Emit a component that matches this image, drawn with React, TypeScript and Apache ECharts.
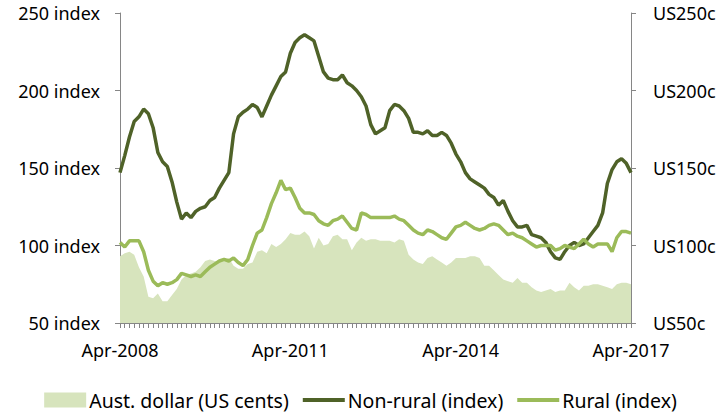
import React, { useEffect, useRef } from "react";
import * as echarts from "echarts";

const startYear = 2008;
const startMonth = 3; // April (0-based)
const monthNames = ["Jan", "Feb", "Mar", "Apr", "May", "Jun", "Jul", "Aug", "Sep", "Oct", "Nov", "Dec"];

const nonRural = [
  147, 158, 170, 180, 183, 188, 185, 176, 160, 154, 151, 141, 128, 117, 121, 118, 122, 124, 125, 129,
  131, 137, 142, 147, 172, 183, 186, 188, 191, 189, 183, 190, 197, 203, 209, 212, 224, 231, 234, 236,
  234, 232, 222, 212, 208, 207, 207, 210, 205, 203, 200, 196, 190, 178, 172, 174, 176, 187, 191, 190,
  187, 182, 173, 173, 172, 174, 171, 171, 173, 171, 166, 159, 154, 147, 143, 141, 139, 137, 133, 131,
  126, 129, 122, 116, 112, 112, 113, 107, 106, 105, 102, 96, 92, 91, 96, 100, 102, 100, 101, 105,
  109, 113, 121, 140, 149, 154, 156, 153, 147,
];

const rural = [
  102, 99, 103, 103, 103, 96, 84, 77, 74, 76, 75, 76, 78, 82, 81, 80, 81, 80, 83, 86,
  88, 90, 91, 90, 92, 89, 87, 91, 100, 108, 110, 118, 127, 134, 142, 136, 137, 131, 124, 121,
  121, 120, 116, 114, 113, 116, 117, 119, 115, 111, 110, 121, 120, 118, 118, 118, 118, 118, 119, 117,
  116, 113, 110, 108, 107, 110, 109, 107, 105, 104, 108, 112, 113, 115, 113, 111, 110, 111, 113, 114,
  113, 110, 107, 108, 106, 105, 103, 101, 99, 100, 100, 100, 97, 98, 100, 99, 98, 101, 104, 101,
  99, 101, 101, 101, 96, 105, 109, 109, 108,
];

const audUsCents = [
  93, 95, 96, 94, 86, 80, 67, 66, 69, 64, 64, 68, 72, 78, 81, 82, 83, 86, 90, 91,
  90, 89, 91, 92, 87, 85, 85, 88, 89, 96, 97, 95, 101, 99, 101, 104, 108, 107, 107, 109,
  106, 98, 105, 100, 101, 106, 107, 104, 104, 97, 102, 105, 103, 104, 104, 103, 103, 103, 102, 104,
  103, 94, 91, 89, 88, 92, 93, 91, 89, 87, 89, 92, 92, 92, 93, 93, 92, 87, 87, 84,
  81, 78, 77, 76, 79, 76, 76, 73, 71, 70, 71, 72, 70, 71, 71, 76, 73, 71, 74, 74,
  75, 75, 74, 73, 72, 75, 76, 76, 75,
];

const yTicks = { min: 50, max: 250, interval: 50 };

const months: string[] = [];
for (let i = 0; i < nonRural.length; i++) {
  const m = (startMonth + i) % 12;
  const y = startYear + Math.floor((startMonth + i) / 12);
  months.push(`${monthNames[m]}-${y}`);
}

const FONT = "Noto Sans";
const AXIS_COLOR = "#868686";
const LINE_ICON = "path://M0,0 L44,0 L44,4 L0,4 Z";

export default function App() {
  const ref = useRef<HTMLDivElement>(null);
  useEffect(() => {
    if (!ref.current) return;
    const chart = echarts.init(ref.current, undefined, { renderer: "svg" });
    chart.setOption({
      animation: false,
      textStyle: { fontFamily: FONT },
      grid: { left: 120, right: 90, top: 13, bottom: 91 },
      legend: {
        top: 385,
        left: "center",
        itemWidth: 42,
        itemHeight: 15,
        itemGap: 14,
        symbolKeepAspect: true,
        textStyle: { fontSize: 19.5, color: "#000", fontFamily: FONT, padding: [0, 0, 0, -2] },
        data: [
          { name: "Aust. dollar (US cents)", icon: "rect", itemStyle: { color: "#d7e4bd" } },
          { name: "Non-rural (index)", icon: LINE_ICON, itemStyle: { color: "#4f6228" } },
          { name: "Rural (index)", icon: LINE_ICON, itemStyle: { color: "#9bbb59" } },
        ],
      },
      xAxis: [
        {
          type: "category",
          data: months,
          boundaryGap: false,
          position: "bottom",
          axisLine: { show: true, lineStyle: { color: AXIS_COLOR, width: 1 } },
          axisTick: { show: true, interval: 0, length: 5, inside: false, lineStyle: { color: AXIS_COLOR } },
          axisLabel: { interval: 35, margin: 18, fontSize: 18, color: "#000", fontFamily: FONT },
          splitLine: { show: false },
        },
        {
          type: "category",
          data: months,
          boundaryGap: false,
          position: "bottom",
          axisLine: { show: false },
          axisTick: { show: true, interval: 35, length: 6, inside: true, lineStyle: { color: AXIS_COLOR } },
          axisLabel: { show: false },
          splitLine: { show: false },
        },
      ],
      yAxis: [
        {
          type: "value",
          position: "left",
          ...yTicks,
          axisLine: { show: true, lineStyle: { color: AXIS_COLOR } },
          axisTick: { show: true, length: 5, lineStyle: { color: AXIS_COLOR } },
          axisLabel: { formatter: "{value} index", fontSize: 18, color: "#000", margin: 20, fontFamily: FONT },
          splitLine: { show: false },
        },
        {
          type: "value",
          position: "right",
          ...yTicks,
          axisLine: { show: true, lineStyle: { color: AXIS_COLOR } },
          axisTick: { show: true, length: 5, lineStyle: { color: AXIS_COLOR } },
          axisLabel: { formatter: "US{value}c", fontSize: 18, color: "#000", margin: 22, fontFamily: FONT },
          splitLine: { show: false },
        },
      ],
      series: [
        {
          name: "Aust. dollar (US cents)",
          type: "line",
          yAxisIndex: 1,
          data: audUsCents,
          symbol: "none",
          lineStyle: { width: 0, color: "#d7e4bd" },
          itemStyle: { color: "#d7e4bd" },
          areaStyle: { color: "#d7e4bd", opacity: 1, origin: "start" },
          z: 1,
        },
        {
          name: "Non-rural (index)",
          type: "line",
          yAxisIndex: 0,
          data: nonRural,
          symbol: "none",
          lineStyle: { width: 3.5, color: "#4f6228" },
          itemStyle: { color: "#4f6228" },
          z: 3,
        },
        {
          name: "Rural (index)",
          type: "line",
          yAxisIndex: 0,
          data: rural,
          symbol: "none",
          lineStyle: { width: 3.5, color: "#9bbb59" },
          itemStyle: { color: "#9bbb59" },
          z: 4,
        },
      ],
    });
    return () => chart.dispose();
  }, []);
  return (
    <div
      ref={ref}
      style={{ position: "fixed", left: 0, top: 0, width: 721, height: 414, background: "#fff" }}
    />
  );
}
